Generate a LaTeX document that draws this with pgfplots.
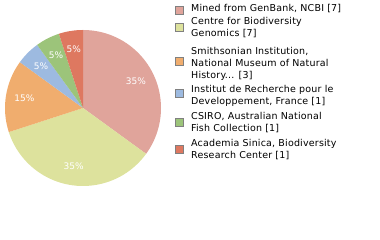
\documentclass[border=0pt]{standalone}
\usepackage{pgfplots}
\pgfplotsset{compat=1.18}
\usepackage{pgfplotstable}
\usepackage{fontspec}
\setmainfont{DejaVu Sans}
\newfontfamily\legfont{DejaVu Sans}[LetterSpace=2]
\definecolor{c0}{HTML}{E0A49B}
\definecolor{c1}{HTML}{DDE29D}
\definecolor{c2}{HTML}{F0AD6E}
\definecolor{c3}{HTML}{9DBAE0}
\definecolor{c4}{HTML}{9CC47A}
\definecolor{c5}{HTML}{DE7860}
\pgfplotstableread{
value
7
7
3
1
1
1
}\piedata
\begin{document}
\begin{tikzpicture}
\useasboundingbox (0,0) rectangle (380pt,240pt);
\begin{axis}[
  hide axis, scale only axis,
  width=156pt, height=156pt,
  xmin=-1, xmax=1, ymin=-1, ymax=1,
  at={(5pt,54pt)}, anchor=south west,
]
\pgfplotstablegetrowsof{\piedata}
\pgfmathtruncatemacro{\N}{\pgfplotsretval-1}
\def\total{0}
\pgfplotsforeachungrouped \i in {0,...,\N}{%
  \pgfplotstablegetelem{\i}{value}\of\piedata
  \pgfmathsetmacro{\total}{\total+\pgfplotsretval}%
}
\def\cum{0}
\pgfplotsforeachungrouped \i in {0,...,\N}{%
  \pgfplotstablegetelem{\i}{value}\of\piedata
  \let\v\pgfplotsretval
  \pgfmathsetmacro{\a}{90-360*\cum/\total}%
  \pgfmathsetmacro{\b}{90-360*(\cum+\v)/\total}%
  \pgfmathsetmacro{\m}{(\a+\b)/2}%
  \pgfmathtruncatemacro{\p}{round(100*\v/\total)}%
  \pgfmathsetmacro{\lx}{0.76*cos(\m)}%
  \pgfmathsetmacro{\ly}{0.76*sin(\m)}%
  \edef\temp{\noexpand\fill[c\i] (axis cs:0,0) -- (axis cs:{cos(\a)},{sin(\a)}) arc[start angle=\a, end angle=\b, radius=78pt] -- cycle;
    \noexpand\node[white, inner sep=0pt, font=\noexpand\fontsize{9}{10}\noexpand\selectfont] at (axis cs:\lx,\ly) {\p\%};}%
  \temp
  \pgfmathsetmacro{\cum}{\cum+\v}%
}
\end{axis}
\begin{scope}[every node/.style={anchor=west, align=left, inner sep=0pt, font=\legfont\fontsize{9.5}{12}\selectfont}]
\filldraw[fill=c0, draw=gray] (175pt,225.5pt) rectangle (183pt,233.5pt);
\node at (191pt,231pt) {Mined from GenBank, NCBI [7]};
\filldraw[fill=c1, draw=gray] (175pt,209pt) rectangle (183pt,217pt);
\node at (191pt,212pt) {Centre for Biodiversity\\Genomics [7]};
\filldraw[fill=c2, draw=gray] (175pt,175pt) rectangle (183pt,183pt);
\node at (191pt,176.5pt) {Smithsonian Institution,\\National Museum of Natural\\History... [3]};
\filldraw[fill=c3, draw=gray] (175pt,143pt) rectangle (183pt,151pt);
\node at (191pt,144pt) {Institut de Recherche pour le\\Developpement, France [1]};
\filldraw[fill=c4, draw=gray] (175pt,114pt) rectangle (183pt,122pt);
\node at (191pt,117pt) {CSIRO, Australian National\\Fish Collection [1]};
\filldraw[fill=c5, draw=gray] (175pt,87pt) rectangle (183pt,95pt);
\node at (191pt,90pt) {Academia Sinica, Biodiversity\\Research Center [1]};
\end{scope}
\end{tikzpicture}
\end{document}
